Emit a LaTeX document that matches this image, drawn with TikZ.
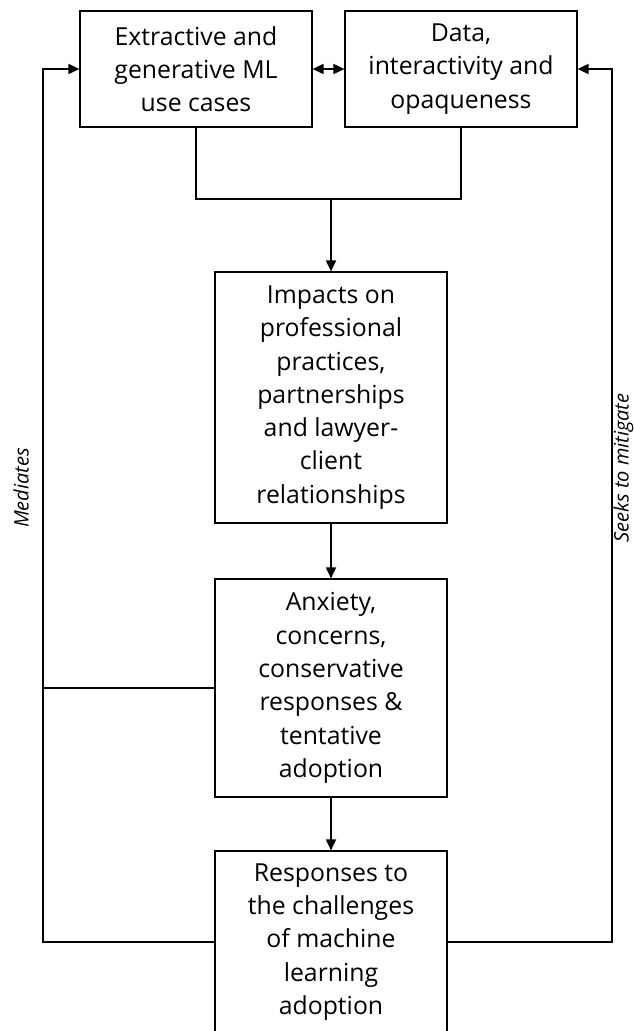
\documentclass[tikz,border=0pt]{standalone}
\usepackage{fontspec}
\setmainfont{Open Sans}
\usetikzlibrary{arrows.meta,positioning}

\begin{document}
\begin{tikzpicture}[x=1pt,y=-1pt,
        box/.style={draw,line width=1.2pt,minimum width=232pt,inner sep=0pt,align=center,
                    font=\fontsize{24.8}{33.3}\selectfont},
        link/.style={line width=1.8pt},
        side/.style={rotate=90,inner sep=0pt,font=\itshape\fontsize{20}{24}\selectfont},
        >={Triangle[length=11pt,width=10pt]}]
    \useasboundingbox (0,0) rectangle (634,1031);
    \clip (0,0) rectangle (634,1031);

    % top row
    \node[box,minimum height=116pt] (usecases) at (196,69) {Extractive and\\generative ML\\use cases};
    \node[box,minimum height=116pt] (datanode) at (461,69) {Data,\\interactivity and\\opaqueness};

    % middle column
    \node[box,minimum height=251pt] (impacts) at (331,397.5) {Impacts on\\professional\\practices,\\partnerships\\and lawyer-\\client\\relationships};
    \node[box,minimum height=218pt] (anxiety) at (331,688) {Anxiety,\\concerns,\\conservative\\responses \&\\tentative\\adoption};
    \node[box,minimum height=182pt] (responses) at (331,942) {Responses to\\the challenges\\of machine\\learning\\adoption};

    \coordinate (join) at (331,199);
    \coordinate (lbend) at (43,942);
    \coordinate (rbend) at (612,942);

    \draw[link,<->] (usecases.east) -- (datanode.west);
    \draw[link] (usecases.south) |- (join) -| (datanode.south);
    \draw[link,->] (join) -- (impacts.north);
    \draw[link,->] (impacts.south) -- (anxiety.north);
    \draw[link,->] (anxiety.south) -- (responses.north);

    % feedback loops
    \draw[link,->] (responses.west) -- (lbend) |- (usecases.west);
    \draw[link] (anxiety.west) -- (anxiety.west -| lbend);
    \draw[link,->] (responses.east) -- (rbend) |- (datanode.east);

    \node[side] (mediates) at (21,488) {Mediates};
    \node[side] (mitigate) at (623.5,468) {Seeks to mitigate};
\end{tikzpicture}
\end{document}
